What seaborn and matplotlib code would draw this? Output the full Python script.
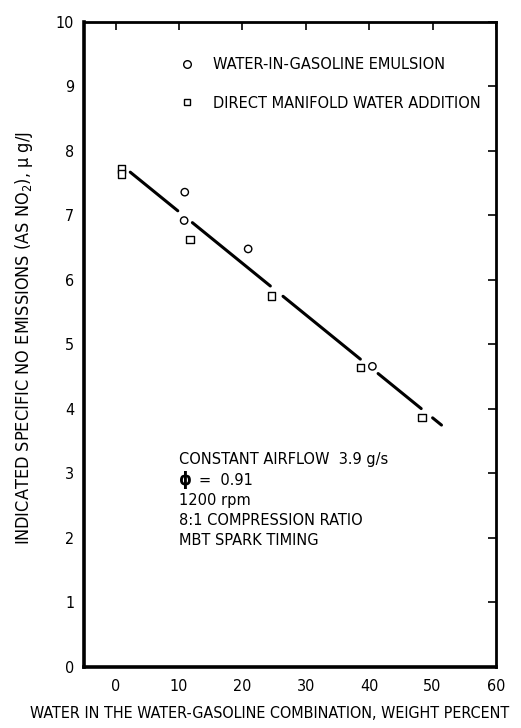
import numpy as np
import pandas as pd
import matplotlib
matplotlib.use("Agg")
import matplotlib.pyplot as plt
from matplotlib.lines import Line2D
import seaborn as sns

# Measured points: water weight percent vs indicated specific NO emissions (ug/J)
emulsion_water = [10.9, 10.8, 20.9, 40.5]
emulsion_no = [7.36, 6.92, 6.48, 4.66]
manifold_water = [0.9, 0.9, 11.7, 24.6, 38.6, 48.3]
manifold_no = [7.72, 7.64, 6.63, 5.75, 4.64, 3.87]

# Faired trend line (end points) and the breaks left around the symbols
trend_water = [2.3, 51.4]
trend_no = [7.67, 3.75]
trend_breaks = [(2.3, 9.8), (12.1, 24.4), (26.4, 38.6), (41.4, 48.2), (50.0, 51.4)]

x_ticks = [0, 10, 20, 30, 40, 50, 60]
y_ticks = [0, 1, 2, 3, 4, 5, 6, 7, 8, 9, 10]

series_labels = ["WATER-IN-GASOLINE EMULSION", "DIRECT MANIFOLD WATER ADDITION"]
conditions = ["CONSTANT AIRFLOW  3.9 g/s", "1200 rpm", "8:1 COMPRESSION RATIO", "MBT SPARK TIMING"]

sns.set_theme(style="white")
plt.rcParams["font.family"] = ["DejaVu Sans"]
plt.rcParams["font.stretch"] = "condensed"
plt.rcParams["mathtext.default"] = "regular"
plt.rcParams["text.color"] = "black"
plt.rcParams["axes.labelcolor"] = "black"

points = pd.DataFrame({
    "water": emulsion_water + manifold_water,
    "no": emulsion_no + manifold_no,
    "method": [series_labels[0]] * len(emulsion_water) + [series_labels[1]] * len(manifold_water),
})

seg_rows = []
for i, (a, b) in enumerate(trend_breaks):
    for xv in (a, b):
        seg_rows.append({"seg": i, "water": xv,
                         "no": float(np.interp(xv, trend_water, trend_no))})
trend = pd.DataFrame(seg_rows)

fig = plt.figure(figsize=(5.21, 7.28), dpi=100)
ax = fig.add_axes([0.1612, 0.0838, 0.7908, 0.8862])

sns.lineplot(data=trend, x="water", y="no", units="seg", estimator=None,
             color="black", linewidth=2.2, ax=ax, legend=False)
sns.scatterplot(data=points, x="water", y="no", style="method",
                markers={series_labels[0]: "o", series_labels[1]: "s"},
                s=28, facecolor="white", edgecolor="black", linewidth=1.0,
                ax=ax, legend=False)

ax.set_xlim(-5, 60)
ax.set_ylim(0, 10)
ax.set_xticks(x_ticks)
ax.set_yticks(y_ticks)
ax.tick_params(direction="in", length=6, width=1.2, top=True, right=True,
               labelsize=11.5, colors="black")
ax.tick_params(axis="x", pad=9)
ax.tick_params(axis="y", pad=7)
for sp in ax.spines.values():
    sp.set_color("black")
    sp.set_linewidth(2.0)
ax.spines["left"].set_linewidth(2.6)
ax.spines["bottom"].set_linewidth(2.6)

ax.set_xlabel("WATER IN THE WATER-GASOLINE COMBINATION, WEIGHT PERCENT",
              fontsize=11.5)
ax.set_ylabel("INDICATED SPECIFIC NO EMISSIONS (AS NO$_2$), \u03bc g/J",
              fontsize=13)
ax.xaxis.set_label_coords(0.45, -0.061)
ax.yaxis.set_label_coords(-0.118, 0.51)

handles = [
    Line2D([], [], marker="o", linestyle="none", markersize=5.5,
           markerfacecolor="white", markeredgecolor="black", markeredgewidth=1.0),
    Line2D([], [], marker="s", linestyle="none", markersize=5,
           markerfacecolor="white", markeredgecolor="black", markeredgewidth=1.0),
]
ax.legend(handles, series_labels, loc="upper left", bbox_to_anchor=(0.215, 0.955),
          frameon=False, fontsize=11.7, handlelength=1.0, handletextpad=1.1,
          labelspacing=1.45, borderaxespad=0)

tx, ty0, dy = 10.0, 3.21, 0.314
ax.text(tx, ty0, conditions[0], fontsize=11.7, va="center", ha="left")
ax.text(tx, ty0 - dy, "\u03d5", fontsize=13, fontweight="bold", va="center", ha="left")
ax.text(tx + 3.1, ty0 - dy, "=  0.91", fontsize=11.7, va="center", ha="left")
for k, line in enumerate(conditions[1:]):
    ax.text(tx, ty0 - dy * (k + 2), line, fontsize=11.7, va="center", ha="left")

fig.savefig("out.png", dpi=100, facecolor="white")
